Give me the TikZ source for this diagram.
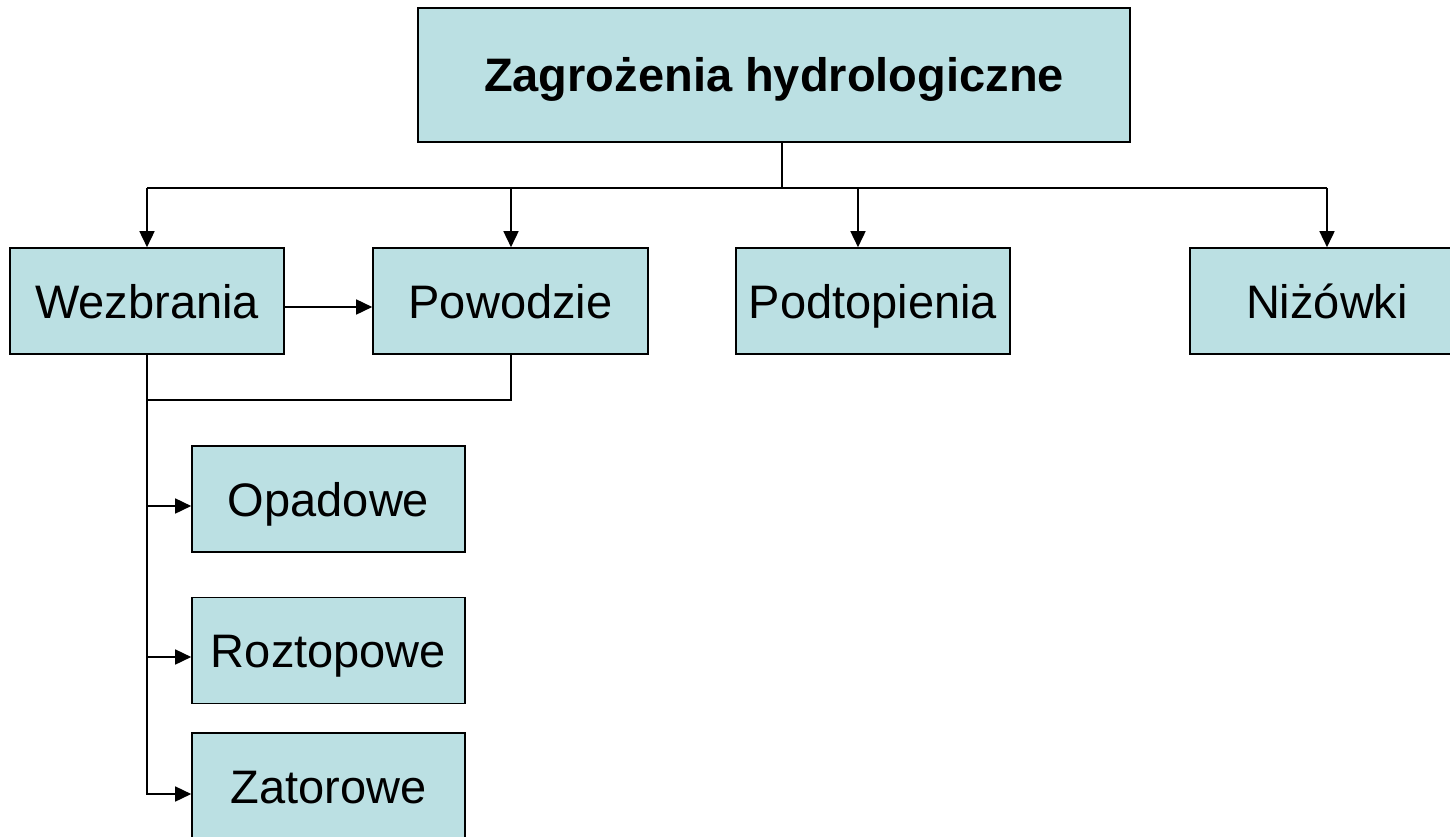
\documentclass[tikz,border=0pt]{standalone}
\usepackage{fontspec}
\setmainfont{Liberation Sans}
\usetikzlibrary{arrows.meta}
\definecolor{boxfill}{HTML}{BBE0E3}
\tikzset{
  box/.style={draw=black, line width=1.6pt, fill=boxfill, rectangle, inner sep=0pt,
    text height=34pt, text depth=0pt, font=\fontsize{47}{56}\selectfont},
  conn/.style={line width=1.6pt, draw=black},
  arr/.style={conn, -{Triangle[length=16pt,width=15pt]}},
}
\begin{document}
\begin{tikzpicture}[x=1pt,y=-1pt]
\useasboundingbox (0,0) rectangle (1450,837);
\clip (0,0) rectangle (1450,837);
\node[box, minimum width=712pt, minimum height=134pt, font=\fontsize{47}{56}\selectfont\bfseries] (top) at (774,75) {Zagrożenia hydrologiczne};
\node[box, minimum width=274pt, minimum height=106pt] (wez) at (147,301) {Wezbrania};
\node[box, minimum width=275pt, minimum height=106pt] (pow) at (510.5,301) {Powodzie};
\node[box, minimum width=274pt, minimum height=106pt] (pod) at (873,301) {Podtopienia};
\node[box, minimum width=274pt, minimum height=106pt] (niz) at (1327,301) {Niżówki};
\node[box, minimum width=273pt, minimum height=106pt] (opa) at (328.5,499) {Opadowe};
\node[box, minimum width=273pt, minimum height=106pt] (roz) at (328.5,650.5) {Roztopowe};
\node[box, minimum width=273pt, minimum height=106pt] (zat) at (328.5,786) {Zatorowe};
\coordinate (hub) at (782,188);
\coordinate (mid) at (147,400);
\draw[conn] (top.south -| hub) -- (hub);
\draw[conn] (147,188) -- (1327,188);
\draw[arr] (147,188) -- (wez.north);
\draw[arr] (511,188) -- (pow.north -| 511,0);
\draw[arr] (858,188) -- (pod.north -| 858,0);
\draw[arr] (1327,188) -- (niz.north);
\draw[arr] (wez.east |- 0,307) -- (pow.west |- 0,307);
\draw[conn] (wez.south) -- (147,795);
\draw[conn] (pow.south -| 511,0) -- (511,400) -- (mid);
\draw[arr] (147,506) -- (opa.west |- 0,506);
\draw[arr] (147,657) -- (roz.west |- 0,657);
\draw[arr] (147,794) -- (zat.west |- 0,794);
\end{tikzpicture}
\end{document}
